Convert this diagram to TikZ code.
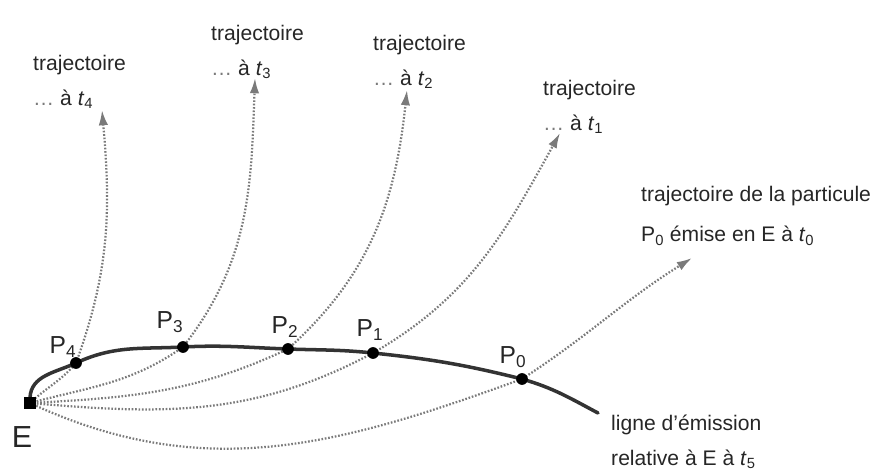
\documentclass[tikz,border=0pt]{standalone}
\usepackage{fontspec}
\setmainfont{Liberation Sans}
\usepackage{tikz}
\usetikzlibrary{arrows.meta}
\definecolor{clText}{HTML}{262626}
\definecolor{clTraj}{HTML}{7A7A7A}
\definecolor{clEmis}{HTML}{333333}

\begin{document}
\begin{tikzpicture}[x=0.03cm,y=0.03cm,
  every node/.style={font=\fontsize{18}{30}\selectfont,text=clText,inner sep=0pt},
  traj/.style={draw=clTraj,line width=1.9pt,dash pattern=on 1.4pt off 1.5pt,-{Latex[length=13pt,width=8pt]}},
  emis/.style={draw=clEmis,line width=3pt,line cap=round},
  pt/.style={circle,fill=black,minimum size=10pt},
  lbl/.style={align=left,anchor=west},
  plbl/.style={font=\fontsize{21}{24}\selectfont}]
  \useasboundingbox (0,0) rectangle (878,473);
  % particles on the emission line, and ends of their trajectories
  \foreach \n/\x/\y in {4/76/110,3/183/126,2/288/124,1/373/120,0/522/94}
    \coordinate (P\n) at (\x,\y);
  \foreach \n/\x/\y in {4/102/363,3/255/395,2/407/383,1/560/340,0/692/215}
    \coordinate (T\n) at (\x,\y);
  \coordinate (E) at (30,70);
  \coordinate (Lend) at (598,60);
  \draw[traj] (E) to[out=43,in=230] (P4) to[out=70,in=-85] (T4);
  \draw[traj] (E) to[out=15,in=215] (P3) to[out=52,in=-92] (T3);
  \draw[traj] (E) to[out=3,in=205] (P2) to[out=42,in=-96] (T2);
  \draw[traj] (E) to[out=-5,in=208] (P1) to[out=30,in=241] (T1);
  \draw[traj] (E) to[out=-25,in=200] (P0) to[out=33,in=212] (T0);
  % ligne d'emission
  \draw[emis] (E) ++(0,5) to[out=88,in=205] (P4) to[out=25,in=183] (P3)
    to[out=3,in=178] (P2) to[out=-2,in=174] (P1) to[out=-6,in=166] (P0)
    to[out=-16,in=152] (Lend);
  \foreach \n in {4,3,2,1,0} \node[pt] (d\n) at (P\n) {};
  \node[fill=black,minimum size=10pt] (src) at (E) {};
  % labels
  \node[font=\fontsize{26}{28}\selectfont] (lE) at (22,36) {E};
  \node[plbl] (lP4) at (63,126) {P\textsubscript{4}};
  \node[plbl] (lP3) at (170,151) {P\textsubscript{3}};
  \node[plbl] (lP2) at (285,146) {P\textsubscript{2}};
  \node[plbl] (lP1) at (370,143) {P\textsubscript{1}};
  \node[plbl] (lP0) at (513,116) {P\textsubscript{0}};
  \node[lbl] (l4) at (33,391) {trajectoire\\\textcolor{clTraj}{\ldots} à \textit{t}\textsubscript{4}};
  \node[lbl] (l3) at (211,421) {trajectoire\\\textcolor{clTraj}{\ldots} à \textit{t}\textsubscript{3}};
  \node[lbl] (l2) at (373,411) {trajectoire\\\textcolor{clTraj}{\ldots} à \textit{t}\textsubscript{2}};
  \node[lbl] (l1) at (543,366) {trajectoire\\\textcolor{clTraj}{\ldots} à \textit{t}\textsubscript{1}};
  \node[lbl] (l0) at (641,257) {trajectoire de la particule\\[4pt]P\textsubscript{0} émise en E à \textit{t}\textsubscript{0}};
  \node[lbl] (lL) at (611,31) {ligne d'émission\\relative à E à \textit{t}\textsubscript{5}};
\end{tikzpicture}
\end{document}
